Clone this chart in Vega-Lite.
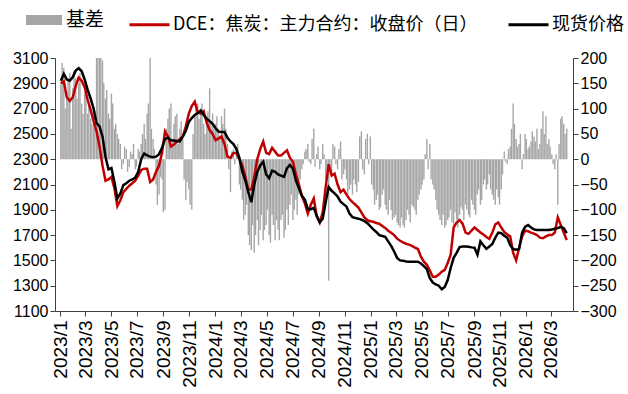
{
"$schema":"https://vega.github.io/schema/vega-lite/v6.json",
"width":518,"height":253,
"autosize":"none",
"padding":{"left":55,"top":58,"right":55,"bottom":83},
"background":"white",
"config":{"view":{"stroke":null},"axis":{"grid":false,"labelFont":"Liberation Sans","labelFontSize":16,"labelColor":"#000","domainColor":"#404040","tickColor":"#404040","tickSize":5,"title":null},"legend":{"labelFont":"Noto Sans CJK SC","labelFontSize":18,"labelColor":"#000","padding":0,"labelLimit":400,"title":null}},
"datasets":{
"main":[
{"d":"2023-01-03","s":2920,"f":2900},{"d":"2023-01-10","s":2975,"f":2915},{"d":"2023-01-17","s":2930,"f":2790},{"d":"2023-01-24","s":2920,"f":2760},{"d":"2023-01-31","s":2950,"f":2790},
{"d":"2023-02-07","s":3000,"f":2880},{"d":"2023-02-14","s":3020,"f":2945},{"d":"2023-02-21","s":2995,"f":2920},{"d":"2023-02-28","s":2930,"f":2870},
{"d":"2023-03-07","s":2850,"f":2770},{"d":"2023-03-14","s":2780,"f":2690},{"d":"2023-03-21","s":2700,"f":2600},{"d":"2023-03-28","s":2585,"f":2520},
{"d":"2023-04-04","s":2560,"f":2400},{"d":"2023-04-11","s":2480,"f":2250},{"d":"2023-04-18","s":2320,"f":2130},{"d":"2023-04-25","s":2220,"f":2140},
{"d":"2023-05-02","s":2230,"f":2160},{"d":"2023-05-09","s":2120,"f":2070},{"d":"2023-05-16","s":1990,"f":1930},{"d":"2023-05-23","s":2030,"f":1975},{"d":"2023-05-30","s":2095,"f":2040},
{"d":"2023-06-06","s":2110,"f":2065},{"d":"2023-06-13","s":2130,"f":2090},{"d":"2023-06-20","s":2140,"f":2110},{"d":"2023-06-27","s":2155,"f":2130},
{"d":"2023-07-04","s":2200,"f":2170},{"d":"2023-07-11","s":2300,"f":2215},{"d":"2023-07-18","s":2345,"f":2225},{"d":"2023-07-25","s":2330,"f":2225},
{"d":"2023-08-01","s":2320,"f":2120},{"d":"2023-08-08","s":2315,"f":2140},{"d":"2023-08-15","s":2320,"f":2200},{"d":"2023-08-22","s":2340,"f":2250},{"d":"2023-08-29","s":2390,"f":2350},
{"d":"2023-09-05","s":2460,"f":2520},{"d":"2023-09-12","s":2470,"f":2480},{"d":"2023-09-19","s":2450,"f":2400},{"d":"2023-09-26","s":2448,"f":2415},
{"d":"2023-10-03","s":2442,"f":2440},{"d":"2023-10-10","s":2440,"f":2460},{"d":"2023-10-17","s":2480,"f":2480},{"d":"2023-10-24","s":2525,"f":2560},{"d":"2023-10-31","s":2595,"f":2660},
{"d":"2023-11-07","s":2625,"f":2720},{"d":"2023-11-14","s":2650,"f":2755},{"d":"2023-11-21","s":2665,"f":2670},{"d":"2023-11-28","s":2685,"f":2660},
{"d":"2023-12-05","s":2650,"f":2680},{"d":"2023-12-12","s":2620,"f":2590},{"d":"2023-12-19","s":2600,"f":2530},{"d":"2023-12-26","s":2580,"f":2500},
{"d":"2024-01-02","s":2545,"f":2450},{"d":"2024-01-09","s":2518,"f":2465},{"d":"2024-01-16","s":2515,"f":2480},{"d":"2024-01-23","s":2515,"f":2420},{"d":"2024-01-30","s":2470,"f":2320},
{"d":"2024-02-06","s":2440,"f":2310},{"d":"2024-02-13","s":2420,"f":2350},{"d":"2024-02-20","s":2380,"f":2350},{"d":"2024-02-27","s":2310,"f":2300},
{"d":"2024-03-05","s":2200,"f":2250},{"d":"2024-03-12","s":2130,"f":2160},{"d":"2024-03-19","s":2040,"f":2060},{"d":"2024-03-26","s":1960,"f":2060},
{"d":"2024-04-02","s":2100,"f":2160},{"d":"2024-04-09","s":2200,"f":2300},{"d":"2024-04-16","s":2250,"f":2380},{"d":"2024-04-23","s":2280,"f":2440},{"d":"2024-04-30","s":2180,"f":2350},
{"d":"2024-05-07","s":2150,"f":2340},{"d":"2024-05-14","s":2210,"f":2390},{"d":"2024-05-21","s":2200,"f":2360},{"d":"2024-05-28","s":2180,"f":2330},
{"d":"2024-06-04","s":2170,"f":2330},{"d":"2024-06-11","s":2160,"f":2350},{"d":"2024-06-18","s":2230,"f":2370},{"d":"2024-06-25","s":2255,"f":2310},
{"d":"2024-07-02","s":2225,"f":2280},{"d":"2024-07-09","s":2130,"f":2180},{"d":"2024-07-16","s":2070,"f":2100},{"d":"2024-07-23","s":2010,"f":2010},{"d":"2024-07-30","s":1980,"f":1950},
{"d":"2024-08-06","s":1905,"f":1870},{"d":"2024-08-13","s":1905,"f":1940},{"d":"2024-08-20","s":1915,"f":1990},{"d":"2024-08-27","s":1850,"f":1850},
{"d":"2024-09-03","s":1800,"f":1800},{"d":"2024-09-10","s":1830,"f":1880},{"d":"2024-09-17","s":1960,"f":2080},{"d":"2024-09-24","s":2080,"f":2260},
{"d":"2024-10-01","s":2050,"f":2170},{"d":"2024-10-08","s":2030,"f":2185},{"d":"2024-10-15","s":2005,"f":2100},{"d":"2024-10-22","s":1965,"f":2040},{"d":"2024-10-29","s":1945,"f":2060},
{"d":"2024-11-05","s":1925,"f":2020},{"d":"2024-11-12","s":1870,"f":1985},{"d":"2024-11-19","s":1842,"f":1960},{"d":"2024-11-26","s":1835,"f":1940},
{"d":"2024-12-03","s":1830,"f":1918},{"d":"2024-12-10","s":1822,"f":1880},{"d":"2024-12-17","s":1810,"f":1840},{"d":"2024-12-24","s":1795,"f":1818},{"d":"2024-12-31","s":1770,"f":1810},
{"d":"2025-01-07","s":1745,"f":1805},{"d":"2025-01-14","s":1725,"f":1795},{"d":"2025-01-21","s":1700,"f":1790},{"d":"2025-01-28","s":1693,"f":1772},
{"d":"2025-02-04","s":1686,"f":1757},{"d":"2025-02-11","s":1650,"f":1735},{"d":"2025-02-18","s":1615,"f":1718},{"d":"2025-02-25","s":1570,"f":1700},
{"d":"2025-03-04","s":1520,"f":1672},{"d":"2025-03-11","s":1500,"f":1655},{"d":"2025-03-18","s":1498,"f":1642},{"d":"2025-03-25","s":1492,"f":1632},
{"d":"2025-04-01","s":1490,"f":1625},{"d":"2025-04-08","s":1490,"f":1615},{"d":"2025-04-15","s":1490,"f":1600},{"d":"2025-04-22","s":1490,"f":1590},{"d":"2025-04-29","s":1475,"f":1530},
{"d":"2025-05-06","s":1455,"f":1490},{"d":"2025-05-13","s":1430,"f":1465},{"d":"2025-05-20","s":1360,"f":1420},{"d":"2025-05-27","s":1325,"f":1370},
{"d":"2025-06-03","s":1310,"f":1370},{"d":"2025-06-10","s":1300,"f":1388},{"d":"2025-06-17","s":1272,"f":1410},{"d":"2025-06-24","s":1290,"f":1425},
{"d":"2025-07-01","s":1345,"f":1480},{"d":"2025-07-08","s":1440,"f":1545},{"d":"2025-07-15","s":1520,"f":1760},{"d":"2025-07-22","s":1560,"f":1800},{"d":"2025-07-29","s":1605,"f":1820},
{"d":"2025-08-05","s":1610,"f":1790},{"d":"2025-08-12","s":1610,"f":1720},{"d":"2025-08-19","s":1608,"f":1710},{"d":"2025-08-26","s":1603,"f":1735},
{"d":"2025-09-02","s":1600,"f":1760},{"d":"2025-09-09","s":1545,"f":1740},{"d":"2025-09-16","s":1650,"f":1720},{"d":"2025-09-23","s":1620,"f":1705},{"d":"2025-09-30","s":1592,"f":1685},
{"d":"2025-10-07","s":1610,"f":1670},{"d":"2025-10-14","s":1630,"f":1720},{"d":"2025-10-21","s":1680,"f":1785},{"d":"2025-10-28","s":1720,"f":1800},
{"d":"2025-11-04","s":1715,"f":1760},{"d":"2025-11-11","s":1695,"f":1725},{"d":"2025-11-18","s":1680,"f":1705},{"d":"2025-11-25","s":1620,"f":1690},
{"d":"2025-12-02","s":1590,"f":1560},{"d":"2025-12-09","s":1585,"f":1500},{"d":"2025-12-16","s":1590,"f":1600},{"d":"2025-12-23","s":1720,"f":1690},{"d":"2025-12-30","s":1765,"f":1735},
{"d":"2026-01-06","s":1780,"f":1730},{"d":"2026-01-13","s":1760,"f":1720},{"d":"2026-01-20","s":1745,"f":1712},{"d":"2026-01-27","s":1740,"f":1700},
{"d":"2026-02-03","s":1740,"f":1680},{"d":"2026-02-10","s":1740,"f":1675},{"d":"2026-02-17","s":1740,"f":1690},{"d":"2026-02-24","s":1740,"f":1700},
{"d":"2026-03-03","s":1745,"f":1700},{"d":"2026-03-10","s":1750,"f":1720},{"d":"2026-03-17","s":1755,"f":1840},{"d":"2026-03-24","s":1765,"f":1780},{"d":"2026-03-31","s":1755,"f":1720},
{"d":"2026-04-07","s":1715,"f":1660}
],
"bars":[
{"d":"2023-01-03","b":150},{"d":"2023-01-06","b":190},{"d":"2023-01-10","b":180},{"d":"2023-01-13","b":100},{"d":"2023-01-17","b":120},{"d":"2023-01-20","b":160},{"d":"2023-01-24","b":170},{"d":"2023-01-27","b":60},{"d":"2023-01-31","b":140},
{"d":"2023-02-03","b":175},{"d":"2023-02-07","b":160},{"d":"2023-02-10","b":120},{"d":"2023-02-14","b":150},{"d":"2023-02-17","b":170},{"d":"2023-02-21","b":110},{"d":"2023-02-24","b":90},{"d":"2023-02-28","b":130},
{"d":"2023-03-03","b":150},{"d":"2023-03-07","b":90},{"d":"2023-03-10","b":110},{"d":"2023-03-14","b":80},{"d":"2023-03-17","b":70},{"d":"2023-03-21","b":100},{"d":"2023-03-24","b":90},{"d":"2023-03-28","b":200},{"d":"2023-03-31","b":200},
{"d":"2023-04-04","b":200},{"d":"2023-04-07","b":200},{"d":"2023-04-11","b":195},{"d":"2023-04-14","b":150},{"d":"2023-04-18","b":120},{"d":"2023-04-21","b":137},{"d":"2023-04-25","b":90},{"d":"2023-04-28","b":80},
{"d":"2023-05-02","b":130},{"d":"2023-05-05","b":110},{"d":"2023-05-09","b":60},{"d":"2023-05-12","b":70},{"d":"2023-05-16","b":50},{"d":"2023-05-19","b":40},{"d":"2023-05-23","b":30},{"d":"2023-05-26","b":-20},{"d":"2023-05-30","b":-10},
{"d":"2023-06-02","b":25},{"d":"2023-06-06","b":20},{"d":"2023-06-09","b":-25},{"d":"2023-06-13","b":-15},{"d":"2023-06-16","b":15},{"d":"2023-06-20","b":10},{"d":"2023-06-23","b":30},{"d":"2023-06-27","b":-20},{"d":"2023-06-30","b":-15},
{"d":"2023-07-04","b":20},{"d":"2023-07-07","b":15},{"d":"2023-07-11","b":30},{"d":"2023-07-14","b":50},{"d":"2023-07-18","b":70},{"d":"2023-07-21","b":40},{"d":"2023-07-25","b":90},{"d":"2023-07-28","b":110},
{"d":"2023-08-01","b":200},{"d":"2023-08-04","b":60},{"d":"2023-08-08","b":40},{"d":"2023-08-11","b":20},{"d":"2023-08-15","b":-50},{"d":"2023-08-18","b":-90},{"d":"2023-08-22","b":-70},{"d":"2023-08-25","b":-35},{"d":"2023-08-29","b":-40},
{"d":"2023-09-01","b":-105},{"d":"2023-09-05","b":-100},{"d":"2023-09-08","b":60},{"d":"2023-09-12","b":80},{"d":"2023-09-15","b":100},{"d":"2023-09-19","b":110},{"d":"2023-09-22","b":40},{"d":"2023-09-26","b":70},{"d":"2023-09-29","b":85},
{"d":"2023-10-03","b":90},{"d":"2023-10-06","b":30},{"d":"2023-10-10","b":60},{"d":"2023-10-13","b":75},{"d":"2023-10-17","b":40},{"d":"2023-10-20","b":-40},{"d":"2023-10-24","b":-80},{"d":"2023-10-27","b":-45},{"d":"2023-10-31","b":-60},
{"d":"2023-11-03","b":-90},{"d":"2023-11-07","b":-100},{"d":"2023-11-10","b":50},{"d":"2023-11-14","b":90},{"d":"2023-11-17","b":100},{"d":"2023-11-21","b":110},{"d":"2023-11-24","b":80},{"d":"2023-11-28","b":100},
{"d":"2023-12-01","b":110},{"d":"2023-12-05","b":70},{"d":"2023-12-08","b":50},{"d":"2023-12-12","b":85},{"d":"2023-12-15","b":95},{"d":"2023-12-19","b":140},{"d":"2023-12-22","b":75},{"d":"2023-12-26","b":90},{"d":"2023-12-29","b":60},
{"d":"2024-01-02","b":70},{"d":"2024-01-05","b":85},{"d":"2024-01-09","b":60},{"d":"2024-01-12","b":40},{"d":"2024-01-16","b":85},{"d":"2024-01-19","b":70},{"d":"2024-01-23","b":100},{"d":"2024-01-26","b":60},{"d":"2024-01-30","b":30},
{"d":"2024-02-02","b":-20},{"d":"2024-02-06","b":-65},{"d":"2024-02-09","b":15},{"d":"2024-02-13","b":20},{"d":"2024-02-16","b":-10},{"d":"2024-02-20","b":10},{"d":"2024-02-23","b":30},{"d":"2024-02-27","b":-50},
{"d":"2024-03-01","b":-60},{"d":"2024-03-05","b":-80},{"d":"2024-03-08","b":-120},{"d":"2024-03-12","b":-110},{"d":"2024-03-15","b":-90},{"d":"2024-03-19","b":-150},{"d":"2024-03-22","b":-170},{"d":"2024-03-26","b":-180},{"d":"2024-03-29","b":-130},
{"d":"2024-04-02","b":-185},{"d":"2024-04-05","b":-150},{"d":"2024-04-09","b":-120},{"d":"2024-04-12","b":-170},{"d":"2024-04-16","b":-140},{"d":"2024-04-19","b":-110},{"d":"2024-04-23","b":-160},{"d":"2024-04-26","b":-140},{"d":"2024-04-30","b":-130},
{"d":"2024-05-03","b":-100},{"d":"2024-05-07","b":-150},{"d":"2024-05-10","b":-165},{"d":"2024-05-14","b":-110},{"d":"2024-05-17","b":-130},{"d":"2024-05-21","b":-160},{"d":"2024-05-24","b":-120},{"d":"2024-05-28","b":-140},{"d":"2024-05-31","b":-160},
{"d":"2024-06-04","b":-120},{"d":"2024-06-07","b":-110},{"d":"2024-06-11","b":-155},{"d":"2024-06-14","b":-140},{"d":"2024-06-18","b":-100},{"d":"2024-06-21","b":-130},{"d":"2024-06-25","b":-90},{"d":"2024-06-28","b":-70},
{"d":"2024-07-02","b":-120},{"d":"2024-07-05","b":-100},{"d":"2024-07-09","b":-80},{"d":"2024-07-12","b":-110},{"d":"2024-07-16","b":-70},{"d":"2024-07-19","b":-40},{"d":"2024-07-23","b":-20},{"d":"2024-07-26","b":-10},{"d":"2024-07-30","b":15},
{"d":"2024-08-02","b":20},{"d":"2024-08-06","b":30},{"d":"2024-08-09","b":-5},{"d":"2024-08-13","b":-10},{"d":"2024-08-16","b":40},{"d":"2024-08-20","b":60},{"d":"2024-08-23","b":-15},{"d":"2024-08-27","b":10},{"d":"2024-08-30","b":25},
{"d":"2024-09-03","b":-20},{"d":"2024-09-06","b":-10},{"d":"2024-09-10","b":30},{"d":"2024-09-13","b":10},{"d":"2024-09-17","b":-40},{"d":"2024-09-20","b":-30},{"d":"2024-09-24","b":-240},{"d":"2024-09-27","b":-20},
{"d":"2024-10-01","b":-30},{"d":"2024-10-04","b":30},{"d":"2024-10-08","b":25},{"d":"2024-10-11","b":-10},{"d":"2024-10-15","b":-20},{"d":"2024-10-18","b":20},{"d":"2024-10-22","b":35},{"d":"2024-10-25","b":-40},{"d":"2024-10-29","b":-30},
{"d":"2024-11-01","b":-20},{"d":"2024-11-05","b":-40},{"d":"2024-11-08","b":-70},{"d":"2024-11-12","b":-60},{"d":"2024-11-15","b":-50},{"d":"2024-11-19","b":-70},{"d":"2024-11-22","b":-40},{"d":"2024-11-26","b":-50},{"d":"2024-11-29","b":-65},
{"d":"2024-12-03","b":-45},{"d":"2024-12-06","b":45},{"d":"2024-12-10","b":55},{"d":"2024-12-13","b":-20},{"d":"2024-12-17","b":-30},{"d":"2024-12-20","b":40},{"d":"2024-12-24","b":50},{"d":"2024-12-27","b":-10},{"d":"2024-12-31","b":45},
{"d":"2025-01-03","b":-50},{"d":"2025-01-07","b":-60},{"d":"2025-01-10","b":-90},{"d":"2025-01-14","b":-80},{"d":"2025-01-17","b":-70},{"d":"2025-01-21","b":-100},{"d":"2025-01-24","b":-95},{"d":"2025-01-28","b":-70},{"d":"2025-01-31","b":-60},
{"d":"2025-02-04","b":-90},{"d":"2025-02-07","b":-100},{"d":"2025-02-11","b":-110},{"d":"2025-02-14","b":-80},{"d":"2025-02-18","b":-100},{"d":"2025-02-21","b":-120},{"d":"2025-02-25","b":-115},{"d":"2025-02-28","b":-110},
{"d":"2025-03-04","b":-125},{"d":"2025-03-07","b":-130},{"d":"2025-03-11","b":-135},{"d":"2025-03-14","b":-115},{"d":"2025-03-18","b":-130},{"d":"2025-03-21","b":-135},{"d":"2025-03-25","b":-120},{"d":"2025-03-28","b":-100},
{"d":"2025-04-01","b":-110},{"d":"2025-04-04","b":-125},{"d":"2025-04-08","b":-90},{"d":"2025-04-11","b":-95},{"d":"2025-04-15","b":-100},{"d":"2025-04-18","b":-110},{"d":"2025-04-22","b":-80},{"d":"2025-04-25","b":-70},{"d":"2025-04-29","b":-60},
{"d":"2025-05-02","b":-50},{"d":"2025-05-06","b":-40},{"d":"2025-05-09","b":10},{"d":"2025-05-13","b":40},{"d":"2025-05-16","b":-20},{"d":"2025-05-20","b":30},{"d":"2025-05-23","b":-40},{"d":"2025-05-27","b":-50},{"d":"2025-05-30","b":-60},
{"d":"2025-06-03","b":-80},{"d":"2025-06-06","b":-100},{"d":"2025-06-10","b":-110},{"d":"2025-06-13","b":-120},{"d":"2025-06-17","b":-130},{"d":"2025-06-20","b":-110},{"d":"2025-06-24","b":-135},{"d":"2025-06-27","b":-130},
{"d":"2025-07-01","b":-120},{"d":"2025-07-04","b":-115},{"d":"2025-07-08","b":-100},{"d":"2025-07-11","b":-125},{"d":"2025-07-15","b":-130},{"d":"2025-07-18","b":-105},{"d":"2025-07-22","b":-120},{"d":"2025-07-25","b":-135},{"d":"2025-07-29","b":-110},
{"d":"2025-08-01","b":-95},{"d":"2025-08-05","b":-100},{"d":"2025-08-08","b":-120},{"d":"2025-08-12","b":-90},{"d":"2025-08-15","b":-100},{"d":"2025-08-19","b":-110},{"d":"2025-08-22","b":-115},{"d":"2025-08-26","b":-80},{"d":"2025-08-29","b":-90},
{"d":"2025-09-02","b":-100},{"d":"2025-09-05","b":-110},{"d":"2025-09-09","b":-70},{"d":"2025-09-12","b":-60},{"d":"2025-09-16","b":-90},{"d":"2025-09-19","b":-80},{"d":"2025-09-23","b":-50},{"d":"2025-09-26","b":-40},{"d":"2025-09-30","b":-60},
{"d":"2025-10-03","b":-50},{"d":"2025-10-07","b":-30},{"d":"2025-10-10","b":-60},{"d":"2025-10-14","b":-70},{"d":"2025-10-17","b":-80},{"d":"2025-10-21","b":-90},{"d":"2025-10-24","b":-60},{"d":"2025-10-28","b":-75},{"d":"2025-10-31","b":-90},
{"d":"2025-11-04","b":-60},{"d":"2025-11-07","b":-30},{"d":"2025-11-11","b":15},{"d":"2025-11-14","b":-5},{"d":"2025-11-18","b":-10},{"d":"2025-11-21","b":20},{"d":"2025-11-25","b":25},{"d":"2025-11-28","b":60},
{"d":"2025-12-02","b":110},{"d":"2025-12-05","b":70},{"d":"2025-12-09","b":40},{"d":"2025-12-12","b":25},{"d":"2025-12-16","b":30},{"d":"2025-12-19","b":50},{"d":"2025-12-23","b":-20},{"d":"2025-12-26","b":10},{"d":"2025-12-30","b":50},
{"d":"2026-01-02","b":40},{"d":"2026-01-06","b":20},{"d":"2026-01-09","b":25},{"d":"2026-01-13","b":35},{"d":"2026-01-16","b":55},{"d":"2026-01-20","b":45},{"d":"2026-01-23","b":35},{"d":"2026-01-27","b":60},{"d":"2026-01-30","b":20},
{"d":"2026-02-03","b":30},{"d":"2026-02-06","b":60},{"d":"2026-02-10","b":95},{"d":"2026-02-13","b":50},{"d":"2026-02-17","b":85},{"d":"2026-02-20","b":30},{"d":"2026-02-24","b":40},{"d":"2026-02-27","b":25},
{"d":"2026-03-03","b":10},{"d":"2026-03-06","b":-10},{"d":"2026-03-10","b":-20},{"d":"2026-03-13","b":10},{"d":"2026-03-17","b":-90},{"d":"2026-03-20","b":30},{"d":"2026-03-24","b":80},{"d":"2026-03-27","b":85},{"d":"2026-03-31","b":70},
{"d":"2026-04-03","b":50},{"d":"2026-04-07","b":60}
]},
"data":{"name":"main"},
"encoding":{"x":{"field":"d","type":"temporal","scale":{"type":"utc","domain":[{"year":2023,"month":1,"date":1,"utc":true},{"year":2026,"month":4,"date":10,"utc":true}]},"axis":{"format":"%Y/%-m","tickCount":{"interval":"month","step":2},"labelAngle":270,"labelPadding":4,"labelFontSize":19}}},
"layer":[
{"data":{"name":"bars"},"mark":{"type":"bar","width":1.4},"encoding":{"y":{"field":"b","type":"quantitative","stack":null,"scale":{"domain":[-300,200],"nice":false},"axis":{"orient":"right","values":[-300,-250,-200,-150,-100,-50,0,50,100,150,200]}},"fill":{"datum":"基差","type":"nominal","scale":{"range":["#A6A6A6"]},"legend":{"orient":"none","legendX":-29,"legendY":-56,"symbolType":"M-1,-0.28H1V0.28H-1Z","symbolSize":1296,"symbolStrokeWidth":0,"labelOffset":4,"labelFontSize":19}}}},
{"layer":[
{"mark":{"type":"line","strokeWidth":2.5},"encoding":{"y":{"field":"f","type":"quantitative","scale":{"domain":[1100,3100],"nice":false,"zero":false},"axis":{"orient":"left","format":"d","values":[1100,1300,1500,1700,1900,2100,2300,2500,2700,2900,3100]}},"stroke":{"datum":"DCE：焦炭：主力合约：收盘价（日）","type":"nominal","scale":{"domain":["DCE：焦炭：主力合约：收盘价（日）","现货价格"],"range":["#C00000","#000000"]},"legend":{"orient":"none","direction":"horizontal","legendX":73,"legendY":-55,"symbolType":"stroke","symbolSize":1600,"symbolStrokeWidth":3,"labelOffset":2,"columnPadding":24}}}},
{"mark":{"type":"line","strokeWidth":2.5},"encoding":{"y":{"field":"s","type":"quantitative","scale":{"domain":[1100,3100],"nice":false,"zero":false},"axis":{"orient":"left","format":"d","values":[1100,1300,1500,1700,1900,2100,2300,2500,2700,2900,3100]}},"stroke":{"datum":"现货价格","type":"nominal","scale":{"domain":["DCE：焦炭：主力合约：收盘价（日）","现货价格"],"range":["#C00000","#000000"]},"legend":{"orient":"none","direction":"horizontal","legendX":73,"legendY":-55,"symbolType":"stroke","symbolSize":1600,"symbolStrokeWidth":3,"labelOffset":2,"columnPadding":24}}}}
]}
],
"resolve":{"scale":{"y":"independent"}}
}
